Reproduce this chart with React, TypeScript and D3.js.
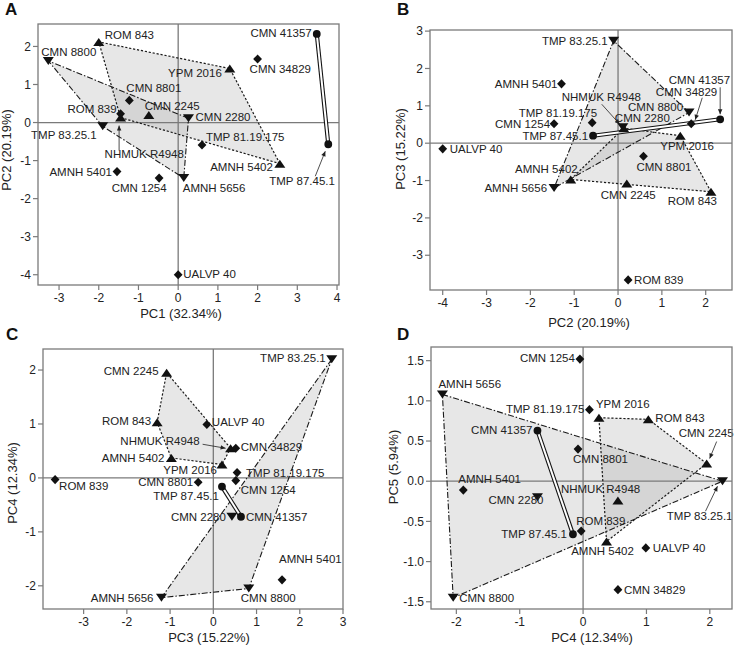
import React from 'react';
import * as d3 from 'd3';

// specimens and their PCA scores
const specimens = [
  'CMN 41357', 'TMP 87.45.1',
  'CMN 8800', 'TMP 83.25.1', 'CMN 2280', 'AMNH 5656',
  'ROM 843', 'YPM 2016', 'AMNH 5402', 'CMN 2245', 'NHMUK R4948',
  'CMN 8801', 'ROM 839', 'TMP 81.19.175', 'AMNH 5401', 'CMN 1254', 'UALVP 40', 'CMN 34829',
];
const groups = [
  'circle', 'circle',
  'down', 'down', 'down', 'down',
  'up', 'up', 'up', 'up', 'up',
  'diamond', 'diamond', 'diamond', 'diamond', 'diamond', 'diamond', 'diamond',
];
const pc1 = [3.49, 3.78, -3.27, -1.9, 0.26, 0.14, -2.0, 1.3, 2.56, -0.74, -1.45, -1.23, -1.45, 0.6, -1.54, -0.48, 0.0, 2.0];
const pc2 = [2.33, -0.57, 1.62, -0.1, 0.11, -1.46, 2.12, 1.42, -1.08, 0.2, 0.13, 0.58, 0.23, -0.59, -1.29, -1.46, -4.0, 1.67];
const pc3 = [0.64, 0.2, 0.82, 2.74, 0.43, -1.2, -1.3, 0.2, -0.97, -1.08, 0.4, -0.35, -3.66, 0.55, 1.59, 0.52, -0.15, 0.52];
const pc4 = [-0.72, -0.16, -2.05, 2.2, -0.72, -2.22, 1.03, 0.25, 0.37, 1.95, 0.55, -0.08, -0.03, 0.1, -1.89, -0.05, 0.99, 0.55];
const pc5 = [0.63, -0.66, -1.45, 0.0, -0.2, 1.08, 0.77, 0.79, -0.75, 0.22, -0.24, 0.4, -0.62, 0.89, -0.11, 1.52, -0.83, -1.35];

const axisTitles: Record<string, string> = {
  PC1: 'PC1 (32.34%)',
  PC2: 'PC2 (20.19%)',
  PC3: 'PC3 (15.22%)',
  PC4: 'PC4 (12.34%)',
  PC5: 'PC5 (5.94%)',
};

const ticksA_x = [-3, -2, -1, 0, 1, 2, 3, 4];
const ticksA_y = [-4, -3, -2, -1, 0, 1, 2];
const ticksB_x = [-4, -3, -2, -1, 0, 1, 2];
const ticksB_y = [-3, -2, -1, 0, 1, 2, 3];
const ticksC_x = [-3, -2, -1, 0, 1, 2, 3];
const ticksC_y = [-2, -1, 0, 1, 2];
const ticksD_x = [-2, -1, 0, 1, 2];
const ticksD_y = [-1.5, -1.0, -0.5, 0.0, 0.5, 1.0, 1.5];

const scores: Record<string, number[]> = { PC1: pc1, PC2: pc2, PC3: pc3, PC4: pc4, PC5: pc5 };

// label placement per panel: [dx, dy, anchor]
type Lab = [number, number, string];
const labelsA: Record<string, Lab> = {
  'ROM 843': [6, -3, 'start'], 'CMN 8800': [-7, -5, 'start'], 'YPM 2016': [-8, 8, 'end'],
  'CMN 41357': [-5, 3, 'end'], 'CMN 34829': [-8, 14, 'start'], 'CMN 8801': [-3, -8, 'start'],
  'CMN 2245': [-4, -5, 'start'], 'ROM 839': [-4, -1, 'end'], 'CMN 2280': [7, 3, 'start'],
  'TMP 83.25.1': [-6, 13, 'end'], 'NHMUK R4948': [-16, 40, 'start'], 'TMP 81.19.175': [4, -4, 'start'],
  'AMNH 5402': [-7, 7, 'end'], 'TMP 87.45.1': [-59, 41, 'start'], 'AMNH 5401': [-5, 4, 'end'],
  'CMN 1254': [-20, 14, 'middle'], 'AMNH 5656': [-1, 14, 'start'], 'UALVP 40': [5, 3, 'start'],
};
const labelsB: Record<string, Lab> = {
  'TMP 83.25.1': [-6, 4, 'end'], 'AMNH 5401': [-4, 4, 'end'], 'CMN 41357': [10, -35, 'end'],
  'CMN 34829': [26, -28, 'end'], 'NHMUK R4948': [-62, -27, 'start'], 'CMN 8800': [-6, -2, 'end'],
  'TMP 81.19.175': [5, -6, 'end'], 'CMN 2280': [-8, -5, 'start'], 'CMN 1254': [-4, 4, 'end'],
  'TMP 87.45.1': [-5, 4, 'end'], 'YPM 2016': [-20, 14, 'start'], 'UALVP 40': [7, 4, 'start'],
  'CMN 8801': [-7, 15, 'start'], 'AMNH 5402': [7, -6, 'end'], 'AMNH 5656': [-7, 4, 'end'],
  'CMN 2245': [-26, 15, 'start'], 'ROM 843': [6, 13, 'end'], 'ROM 839': [6, 4, 'start'],
};
const labelsC: Record<string, Lab> = {
  'TMP 83.25.1': [-6, 3, 'end'], 'CMN 2245': [-8, 2, 'end'], 'ROM 843': [-6, 3, 'end'],
  'UALVP 40': [5, 1, 'start'], 'NHMUK R4948': [-31, -3, 'end'], 'CMN 34829': [5, 3, 'start'],
  'AMNH 5402': [-7, 4, 'end'], 'YPM 2016': [-5, 10, 'end'], 'TMP 81.19.175': [9, 4, 'start'],
  'ROM 839': [4, 10, 'start'], 'CMN 8801': [-5, 4, 'end'], 'CMN 1254': [5, 13, 'start'],
  'TMP 87.45.1': [-3, 13, 'end'], 'CMN 2280': [-6, 4, 'end'], 'CMN 41357': [5, 4, 'start'],
  'AMNH 5401': [-3, -17, 'start'], 'CMN 8800': [-8, 13, 'start'], 'AMNH 5656': [-8, 4, 'end'],
};
const labelsD: Record<string, Lab> = {
  'CMN 1254': [-5, 3, 'end'], 'AMNH 5656': [-4, -6, 'start'], 'TMP 81.19.175': [-5, 3, 'end'],
  'YPM 2016': [-3, -10, 'start'], 'ROM 843': [7, 3, 'start'], 'CMN 41357': [-5, 3, 'end'],
  'CMN 8801': [-5, 14, 'start'], 'CMN 2245': [27, -27, 'end'], 'TMP 83.25.1': [10, 39, 'end'],
  'AMNH 5401': [-5, -7, 'start'], 'NHMUK R4948': [-57, -8, 'start'], 'CMN 2280': [6, 7, 'end'],
  'ROM 839': [-5, -6, 'start'], 'TMP 87.45.1': [-6, 4, 'end'], 'AMNH 5402': [-4, 14, 'middle'],
  'UALVP 40': [7, 4, 'start'], 'CMN 34829': [6, 4, 'start'], 'CMN 8800': [6, 4, 'start'],
};

// leader arrows: [x1, y1, x2, y2] relative to the point
const arrowsA: Record<string, number[]> = {
  'NHMUK R4948': [-1.5, 33, -1.5, 8],
  'TMP 87.45.1': [-13, 32, -3, 7],
};
const arrowsB: Record<string, number[]> = {
  'CMN 41357': [0, -32, 0, -5],
  'CMN 34829': [11, -26, 4, -4],
  'NHMUK R4948': [-22, -24, -4, -4],
};
const arrowsC: Record<string, number[]> = {
  'NHMUK R4948': [-28, -4, -5, 0],
};
const arrowsD: Record<string, number[]> = {
  'CMN 2245': [10, -22, 3, -5],
  'TMP 83.25.1': [-17, 30, -5, 5],
};

const fmtInt = (v: number) => (v < 0 ? '-' : '') + Math.abs(v);
const fmt1 = (v: number) => (v < 0 ? '-' : '') + Math.abs(v).toFixed(1);

const panels = [
  {
    id: 'A', xKey: 'PC1', yKey: 'PC2', xDomain: [-3.53, 4.05], yDomain: [-4.27, 2.59],
    left: 38, right: 339, top: 24, bottom: 285, xTicks: ticksA_x, yTicks: ticksA_y, yFmt: fmtInt,
    letter: [5, 15], xTitle: [181, 318], yTitle: [11, 150], labels: labelsA, arrows: arrowsA,
  },
  {
    id: 'B', xKey: 'PC2', yKey: 'PC3', xDomain: [-4.29, 2.6], yDomain: [-3.93, 3.03],
    left: 430, right: 732, top: 30, bottom: 290, xTicks: ticksB_x, yTicks: ticksB_y, yFmt: fmtInt,
    letter: [397, 15], xTitle: [589, 327], yTitle: [405, 149], labels: labelsB, arrows: arrowsB,
  },
  {
    id: 'C', xKey: 'PC3', yKey: 'PC4', xDomain: [-3.94, 3.0], yDomain: [-2.43, 2.39],
    left: 43, right: 343, top: 349, bottom: 609, xTicks: ticksC_x, yTicks: ticksC_y, yFmt: fmtInt,
    letter: [6, 340], xTitle: [209, 642], yTitle: [17, 483], labels: labelsC, arrows: arrowsC,
  },
  {
    id: 'D', xKey: 'PC4', yKey: 'PC5', xDomain: [-2.4, 2.35], yDomain: [-1.59, 1.67],
    left: 431, right: 732, top: 347, bottom: 609, xTicks: ticksD_x, yTicks: ticksD_y, yFmt: fmt1,
    letter: [397, 340], xTitle: [592, 642], yTitle: [398, 467], labels: labelsD, arrows: arrowsD,
  },
];

const FONT = 'Liberation Sans, Arial, Helvetica, sans-serif';
const GRID = '#7a7a7a';

function markerPath(g: string) {
  if (g === 'up') return 'M0,-4 L5.5,4 L-5.5,4 Z';
  if (g === 'down') return 'M0,4 L5.5,-4 L-5.5,-4 Z';
  if (g === 'diamond') return 'M0,-4.6 L4.4,0 L0,4.6 L-4.4,0 Z';
  return d3.arc()({ innerRadius: 0, outerRadius: 3.9, startAngle: 0, endAngle: 2 * Math.PI } as any) || '';
}

function Panel({ p }: { p: typeof panels[number] }) {
  const x = d3.scaleLinear().domain(p.xDomain).range([p.left, p.right]);
  const y = d3.scaleLinear().domain(p.yDomain).range([p.bottom, p.top]);
  const xs = scores[p.xKey];
  const ys = scores[p.yKey];
  const pts = specimens.map((name, i) => ({ name, g: groups[i], px: x(xs[i]), py: y(ys[i]) }));

  const hull = (g: string) => {
    const h = d3.polygonHull(pts.filter(d => d.g === g).map(d => [d.px, d.py] as [number, number]));
    return h ? 'M' + h.map(q => q.join(',')).join('L') + 'Z' : '';
  };
  const downHull = hull('down');
  const upHull = hull('up');
  const pair = pts.filter(d => d.g === 'circle');
  const pairPath = d3.line<any>().x(d => d.px).y(d => d.py)(pair) || '';

  return (
    <g>
      {/* group hulls */}
      <path d={downHull} fill="#a8a8a8" fillOpacity={0.28} stroke="none" />
      <path d={upHull} fill="#a8a8a8" fillOpacity={0.28} stroke="none" />

      {/* zero lines */}
      <line x1={x(0)} x2={x(0)} y1={p.top} y2={p.bottom} stroke={GRID} strokeWidth={1.3} />
      <line x1={p.left} x2={p.right} y1={y(0)} y2={y(0)} stroke={GRID} strokeWidth={1.3} />

      <path d={downHull} fill="none" stroke="#1a1a1a" strokeWidth={1.1} strokeDasharray="6,2,1.5,2" />
      <path d={upHull} fill="none" stroke="#1a1a1a" strokeWidth={1.2} strokeDasharray="2.2,1.8" />

      {/* the paired circles */}
      <path d={pairPath} fill="none" stroke="#111" strokeWidth={4.2} />
      <path d={pairPath} fill="none" stroke="#fff" strokeWidth={2} />

      {Object.entries(p.arrows).map(([name, a]) => {
        const d = pts.find(q => q.name === name)!;
        return (
          <line key={'ar' + name} x1={d.px + a[0]} y1={d.py + a[1]} x2={d.px + a[2]} y2={d.py + a[3]}
            stroke="#222" strokeWidth={0.8} markerEnd="url(#arrowHead)" />
        );
      })}

      {pts.map(d => (
        <path key={'m' + d.name} d={markerPath(d.g)} transform={`translate(${d.px},${d.py})`} fill="#111" />
      ))}

      {pts.map(d => {
        const l = p.labels[d.name];
        return (
          <text key={'t' + d.name} x={d.px + l[0]} y={d.py + l[1]} textAnchor={l[2] as any}
            fontSize={11.5} fill="#222" fontFamily={FONT}>
            {d.name}
          </text>
        );
      })}

      {/* frame and axes */}
      <rect x={p.left} y={p.top} width={p.right - p.left} height={p.bottom - p.top}
        fill="none" stroke={GRID} strokeWidth={1.3} />
      {p.xTicks.map(t => (
        <g key={'xt' + t}>
          <line x1={x(t)} x2={x(t)} y1={p.bottom} y2={p.bottom + 5} stroke={GRID} strokeWidth={1.2} />
          <text x={x(t)} y={p.bottom + 17} textAnchor="middle" fontSize={12} fill="#222" fontFamily={FONT}>
            {fmtInt(t)}
          </text>
        </g>
      ))}
      {p.yTicks.map(t => (
        <g key={'yt' + t}>
          <line x1={p.left - 5} x2={p.left} y1={y(t)} y2={y(t)} stroke={GRID} strokeWidth={1.2} />
          <text x={p.left - 7} y={y(t) + 4.2} textAnchor="end" fontSize={12} fill="#222" fontFamily={FONT}>
            {p.yFmt(t)}
          </text>
        </g>
      ))}
      <text x={p.xTitle[0]} y={p.xTitle[1]} textAnchor="middle" fontSize={13} fill="#222" fontFamily={FONT}>
        {axisTitles[p.xKey]}
      </text>
      <text transform={`translate(${p.yTitle[0]},${p.yTitle[1]}) rotate(-90)`} textAnchor="middle"
        fontSize={13} fill="#222" fontFamily={FONT}>
        {axisTitles[p.yKey]}
      </text>
      <text x={p.letter[0]} y={p.letter[1]} fontSize={17} fontWeight="bold" fill="#111" fontFamily={FONT}>
        {p.id}
      </text>
    </g>
  );
}

export default function App() {
  return (
    <div style={{ position: 'fixed', left: 0, top: 0, background: '#fff' }}>
      <svg width={734} height={648} style={{ display: 'block' }}>
        <defs>
          <marker id="arrowHead" viewBox="0 0 10 10" refX="10" refY="5" markerUnits="userSpaceOnUse"
            markerWidth="6" markerHeight="5" orient="auto">
            <path d="M0,0.5 L10,5 L0,9.5 Z" fill="#222" />
          </marker>
        </defs>
        <rect width={734} height={648} fill="#fff" />
        {panels.map(p => <Panel key={p.id} p={p} />)}
      </svg>
    </div>
  );
}
